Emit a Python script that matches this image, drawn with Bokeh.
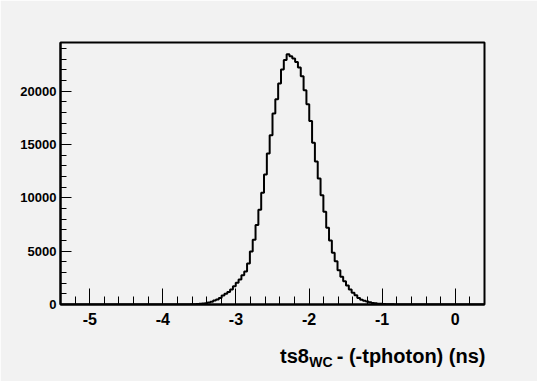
from bokeh.plotting import figure
from bokeh.models import Range1d, FixedTicker, Label
from bokeh.embed import file_html
from bokeh.resources import INLINE

# ---- data ----
x_lo = -5.4
x_hi = 0.4
n_bins = 150
first_bin = 45          # index of the first non-empty bin
counts = [10, 15, 25, 40, 60, 85, 120, 180, 250, 375,
          470, 620, 840, 1000, 1180, 1410, 1720, 2030, 2340, 2750,
          3100, 3850, 4960, 6070, 7440, 8870, 10480, 12190, 14140, 15870,
          17900, 19240, 20700, 22010, 22900, 23460, 23270, 23040, 22730, 22200,
          21390, 20080, 18770, 17200, 15150, 13390, 11800, 10240, 8700, 7180,
          6000, 4840, 4060, 3200, 2600, 2180, 1780, 1410, 1090, 870,
          620, 450, 360, 270, 220, 150, 110, 80, 60, 50,
          35, 25, 15, 10, 5]
x_major = [-5, -4, -3, -2, -1, 0]
x_labels = ["-5", "-4", "-3", "-2", "-1", "0"]
y_major = [0, 5000, 10000, 15000, 20000]
y_top = 24550

BG = "#f2f2f2"
FONT = "Liberation Sans"

# full bin content
full = [0] * n_bins
for k, c in enumerate(counts):
    full[first_bin + k] = c
w = (x_hi - x_lo) / n_bins
edges = [x_lo + i * w for i in range(n_bins + 1)]
ys = full + [full[-1]]

p = figure(width=537, height=381, output_backend="svg", toolbar_location=None,
           x_range=Range1d(x_lo, x_hi), y_range=Range1d(0, y_top),
           min_border_left=60, min_border_right=53, min_border_top=42,
           min_border_bottom=77)
p.background_fill_color = BG
p.border_fill_color = BG
p.outline_line_color = "black"
p.outline_line_width = 2
p.grid.visible = False

p.step(edges, ys, mode="after", line_color="black", line_width=2)

x_minor = [round(x_lo + 0.2 * k, 1) for k in range(int(round((x_hi - x_lo) / 0.2)) + 1)]
y_minor = list(range(0, y_top, 1000))
p.xaxis.ticker = FixedTicker(ticks=x_major, minor_ticks=x_minor)
p.yaxis.ticker = FixedTicker(ticks=y_major, minor_ticks=y_minor)
p.xaxis.major_label_overrides = {t: s for t, s in zip(x_major, x_labels)}

for ax in (p.xaxis[0], p.yaxis[0]):
    ax.axis_line_color = "black"
    ax.axis_line_width = 2
    ax.major_tick_line_color = "black"
    ax.minor_tick_line_color = "black"
    ax.major_tick_out = 0
    ax.minor_tick_out = 0
    ax.major_label_text_font = FONT
    ax.major_label_text_font_style = "bold"
    ax.major_label_text_color = "black"

p.xaxis.major_tick_in = 16
p.xaxis.minor_tick_in = 8
p.yaxis.major_tick_in = 11
p.yaxis.minor_tick_in = 6
p.xaxis.major_label_text_font_size = "16px"
p.yaxis.major_label_text_font_size = "13px"
p.xaxis.major_label_standoff = 8
p.yaxis.major_label_standoff = 4

# axis title with subscript, placed in the panel below the frame (data units)
px_per_x = 424 / (x_hi - x_lo)
px_per_y = 262 / y_top
def dx(px):
    return x_lo + (px - 60) / px_per_x
def dy(py):
    return -(py - 303.5) / px_per_y

NB = "\u00a0"
common = dict(x_units="data", y_units="data", text_font=FONT,
              text_font_style="bold", text_color="black",
              text_align="right", text_baseline="alphabetic")
p.add_layout(Label(x=dx(485), y=dy(355), text="ts8" + NB * 5 + "- (-tphoton) (ns)",
                   text_font_size="20px", **common), "below")
p.add_layout(Label(x=dx(332), y=dy(361), text="WC",
                   text_font_size="14px", **common), "below")

open("out.html", "w").write(file_html(p, INLINE))
